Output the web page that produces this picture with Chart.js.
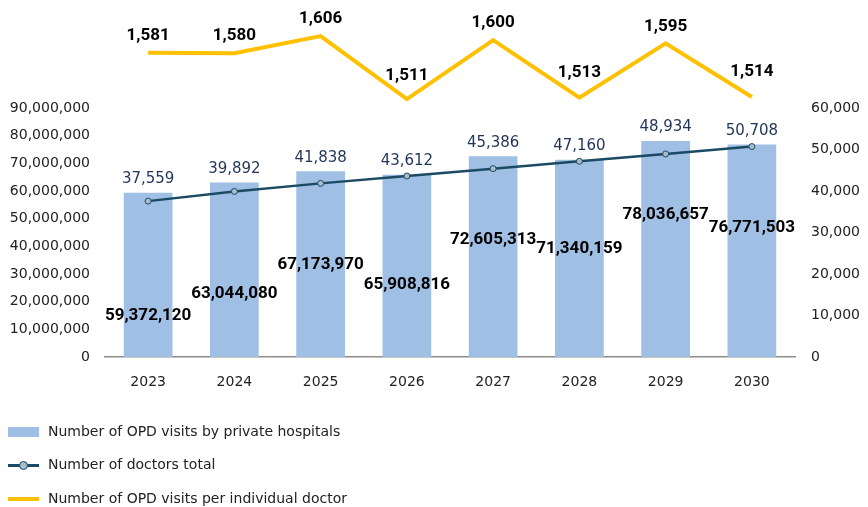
<!DOCTYPE html>
<html>
<head>
<meta charset="utf-8">
<script src="https://cdn.jsdelivr.net/npm/chart.js@4.4.1/dist/chart.umd.min.js"></script>
<style>
  html, body { margin: 0; padding: 0; background: #ffffff; }
  #wrap { width: 868px; height: 507px; }
</style>
</head>
<body>
<div id="wrap"><canvas id="c" width="868" height="507"></canvas></div>
<script>
// ---- data ----
const years = ['2023', '2024', '2025', '2026', '2027', '2028', '2029', '2030'];
const opdVisits = [59372120, 63044080, 67173970, 65908816, 72605313, 71340159, 78036657, 76771503];
const doctorsTotal = [37559, 39892, 41838, 43612, 45386, 47160, 48934, 50708];
const visitsPerDoctor = [1581, 1580, 1606, 1511, 1600, 1513, 1595, 1514];
const seriesNames = [
  'Number of OPD visits by private hospitals',
  'Number of doctors total',
  'Number of OPD visits per individual doctor'
];

const fmt = v => Math.round(v).toLocaleString('en-US');
const REG = '"DejaVu Sans", sans-serif';
const BOLD = 'Roboto, "DejaVu Sans", sans-serif';

const valueLabels = {
  id: 'valueLabels',
  afterDatasetsDraw(chart, args, opts) {
    const ctx = chart.ctx;
    const y = chart.scales.y;
    const bars = chart.getDatasetMeta(0).data;
    const perDoc = chart.getDatasetMeta(2).data;
    ctx.save();
    ctx.textAlign = 'center';
    ctx.textBaseline = 'middle';
    // doctors total labels above bar ends
    ctx.font = '15px ' + REG;
    ctx.fillStyle = '#1F3458';
    bars.forEach((b, i) => ctx.fillText(fmt(doctorsTotal[i]), b.x, b.y - opts.doctorGap));
    // bar value labels
    ctx.font = 'bold 17px ' + BOLD;
    ctx.fillStyle = '#000000';
    bars.forEach((b, i) => {
      const py = y.getPixelForValue(opdVisits[i] * opts.barLabelFrac[i]);
      ctx.fillText(fmt(opdVisits[i]), b.x, py);
    });
    // per-doctor labels
    perDoc.forEach((p, i) => ctx.fillText(fmt(visitsPerDoctor[i]), p.x, p.y - opts.perDocGap[i]));
    ctx.restore();
  }
};

const bottomLegend = {
  id: 'bottomLegend',
  afterDraw(chart, args, opts) {
    const ctx = chart.ctx;
    const ds = chart.data.datasets;
    ctx.save();
    ctx.textAlign = 'left';
    ctx.textBaseline = 'middle';
    ctx.font = '14px ' + REG;
    opts.rows.forEach((ry, i) => {
      const d = ds[i];
      const x0 = opts.x, x1 = opts.x + opts.swatch;
      if (d.type === 'bar') {
        ctx.fillStyle = d.backgroundColor;
        ctx.fillRect(x0, ry - 5, opts.swatch, 10);
      } else {
        ctx.strokeStyle = d.borderColor;
        ctx.lineWidth = d.type === 'line' && d.pointRadius > 0 ? 3 : d.borderWidth;
        ctx.beginPath();
        ctx.moveTo(x0, ry);
        ctx.lineTo(x1, ry);
        ctx.stroke();
        if (d.pointRadius > 0) {
          ctx.beginPath();
          ctx.arc((x0 + x1) / 2, ry, 4, 0, Math.PI * 2);
          ctx.fillStyle = d.pointBackgroundColor;
          ctx.fill();
          ctx.lineWidth = 1;
          ctx.strokeStyle = d.pointBorderColor;
          ctx.stroke();
        }
      }
      ctx.fillStyle = '#222222';
      ctx.fillText(d.label, opts.textX, ry);
    });
    ctx.restore();
  }
};

new Chart(document.getElementById('c'), {
  data: {
    labels: years,
    datasets: [
      {
        type: 'bar',
        label: seriesNames[0],
        data: opdVisits,
        yAxisID: 'y',
        backgroundColor: '#A0BFE4',
        categoryPercentage: 1.0,
        barPercentage: 0.565,
        order: 3
      },
      {
        type: 'line',
        label: seriesNames[1],
        data: doctorsTotal,
        yAxisID: 'y1',
        borderColor: '#1B4A63',
        borderWidth: 2.5,
        pointRadius: 3,
        pointBackgroundColor: '#A9BCCB',
        pointBorderColor: '#1B4A63',
        pointBorderWidth: 1,
        tension: 0,
        order: 1
      },
      {
        type: 'line',
        label: seriesNames[2],
        data: visitsPerDoctor,
        yAxisID: 'y3',
        borderColor: '#FFC000',
        borderWidth: 4,
        pointRadius: 0,
        tension: 0,
        clip: false,
        order: 2
      }
    ]
  },
  options: {
    responsive: false,
    animation: false,
    devicePixelRatio: 1,
    layout: { padding: { top: 108, bottom: 110, left: 0, right: 0 } },
    plugins: {
      legend: { display: false },
      tooltip: { enabled: false },
      valueLabels: {
        doctorGap: 13.5,
        perDocGap: [17, 18, 17, 23, 17, 25, 17, 25],
        barLabelFrac: [0.249, 0.363, 0.497, 0.396, 0.585, 0.547, 0.657, 0.607]
      },
      bottomLegend: { x: 8, swatch: 31, textX: 48, rows: [432, 465.5, 499] }
    },
    scales: {
      x: {
        grid: { display: false, drawTicks: false },
        border: { display: true, color: '#8C8C8C', width: 1.5 },
        ticks: { color: '#222222', font: { family: REG, size: 14 }, padding: 17 },
        afterFit: s => { s.height = 40; }
      },
      y: {
        position: 'left',
        min: 0, max: 90000000,
        grid: { display: false, drawTicks: false },
        border: { display: false },
        ticks: {
          stepSize: 10000000,
          color: '#222222',
          font: { family: REG, size: 14 },
          padding: 15,
          callback: v => fmt(v)
        },
        afterFit: s => { s.width = 105; }
      },
      y1: {
        position: 'right',
        min: 0, max: 60000,
        grid: { display: false, drawTicks: false },
        border: { display: false },
        ticks: {
          stepSize: 10000,
          color: '#222222',
          font: { family: REG, size: 14 },
          padding: 16,
          callback: v => fmt(v)
        },
        afterFit: s => { s.width = 73; }
      },
      y3: {
        display: false,
        min: 1121.9,
        max: 1497.5
      }
    }
  },
  plugins: [valueLabels, bottomLegend]
});
</script>
</body>
</html>
